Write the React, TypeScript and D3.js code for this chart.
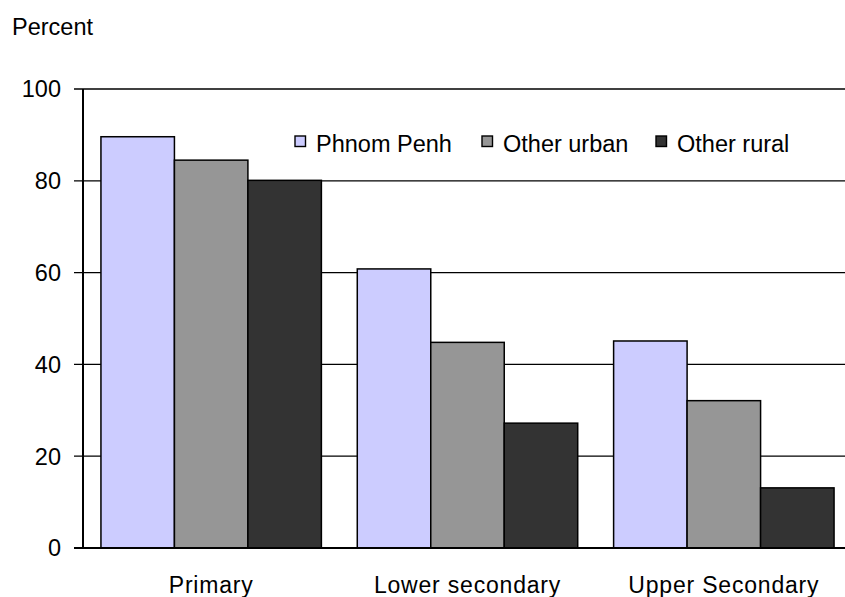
import { useEffect, useRef } from "react";
import * as d3 from "d3";

const categories = ["Primary", "Lower secondary", "Upper Secondary"];
const seriesNames = ["Phnom Penh", "Other urban", "Other rural"];
const phnomPenh = [89.6, 60.8, 45.1];
const otherUrban = [84.5, 44.8, 32.1];
const otherRural = [80.1, 27.2, 13.1];
const yTicks = [0, 20, 40, 60, 80, 100];
const colors = ["#CCCCFF", "#969696", "#333333"];

export default function App() {
  const ref = useRef<HTMLDivElement>(null);

  useEffect(() => {
    const outerWidth = 845;
    const outerHeight = 597;
    const font = "'Liberation Sans', Arial, sans-serif";
    const values = [phnomPenh, otherUrban, otherRural];

    const svg = d3
      .select(ref.current)
      .html("")
      .append("svg")
      .attr("width", outerWidth)
      .attr("height", outerHeight)
      .style("position", "absolute")
      .style("left", "0px")
      .style("top", "0px")
      .style("background", "#fff");

    const left = 83;
    const x0 = d3
      .scaleBand()
      .domain(categories)
      .range([left, 852])
      .paddingInner(0.14)
      .paddingOuter(0.07);

    const x1 = d3
      .scaleBand()
      .domain(seriesNames)
      .range([0, x0.bandwidth()]);

    const y = d3.scaleLinear().domain([0, 100]).range([548, 89]);

    // gridlines + ticks
    const grid = svg.append("g");
    yTicks.forEach((t) => {
      grid
        .append("line")
        .attr("x1", 74)
        .attr("x2", outerWidth)
        .attr("y1", y(t))
        .attr("y2", y(t))
        .attr("stroke", "#000")
        .attr("stroke-width", t === 0 ? 2 : 1.3);
      grid
        .append("text")
        .attr("x", 61)
        .attr("y", y(t))
        .attr("dy", "0.36em")
        .attr("text-anchor", "end")
        .attr("font-family", font)
        .attr("font-size", 23.5)
        .text(t);
    });

    // bars
    categories.forEach((c, ci) => {
      seriesNames.forEach((s, si) => {
        const v = values[si][ci];
        svg
          .append("rect")
          .attr("x", (x0(c) ?? 0) + (x1(s) ?? 0))
          .attr("y", y(v))
          .attr("width", x1.bandwidth())
          .attr("height", y(0) - y(v))
          .attr("fill", colors[si])
          .attr("stroke", "#000")
          .attr("stroke-width", 1.5);
      });
      svg
        .append("text")
        .attr("x", (x0(c) ?? 0) + x0.bandwidth() / 2)
        .attr("y", 593)
        .attr("text-anchor", "middle")
        .attr("font-family", font)
        .attr("font-size", 23)
        .attr("letter-spacing", 0.8)
        .text(c);
    });

    // axis lines
    svg
      .append("line")
      .attr("x1", left)
      .attr("x2", left)
      .attr("y1", y(100))
      .attr("y2", y(0))
      .attr("stroke", "#000")
      .attr("stroke-width", 2);
    svg
      .append("line")
      .attr("x1", left)
      .attr("x2", outerWidth)
      .attr("y1", y(0))
      .attr("y2", y(0))
      .attr("stroke", "#000")
      .attr("stroke-width", 2);

    // y label
    svg
      .append("text")
      .attr("x", 12)
      .attr("y", 34.5)
      .attr("font-family", font)
      .attr("font-size", 23.5)
      .text("Percent");

    // legend
    const legendX = [295, 482, 656];
    seriesNames.forEach((s, i) => {
      svg
        .append("rect")
        .attr("x", legendX[i])
        .attr("y", 136)
        .attr("width", 10.5)
        .attr("height", 10.5)
        .attr("fill", colors[i])
        .attr("stroke", "#000")
        .attr("stroke-width", 1.4);
      svg
        .append("text")
        .attr("x", legendX[i] + 21)
        .attr("y", 152)
        .attr("font-family", font)
        .attr("font-size", 23.5)
        .text(s);
    });
  }, []);

  return <div ref={ref} />;
}
